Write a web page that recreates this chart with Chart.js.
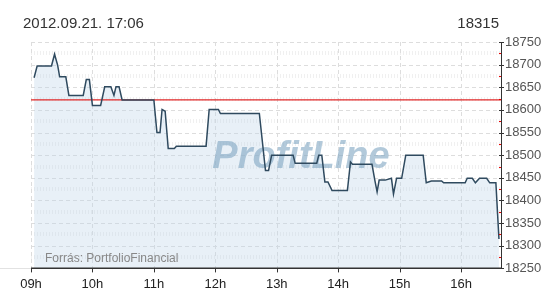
<!DOCTYPE html>
<html>
<head>
<meta charset="utf-8">
<script src="https://cdn.jsdelivr.net/npm/chart.js@4.4.0/dist/chart.umd.min.js"></script>
<style>
  html, body { margin: 0; padding: 0; background: #fff; }
  #wrap { width: 550px; height: 300px; }
</style>
</head>
<body>
<div id="wrap"><canvas id="chart" width="550" height="300"></canvas></div>
<script>
// header / labels
const title = '2012.09.21. 17:06';
const lastPrice = '18315';
const source = 'Forrás: PortfolioFinancial';
const watermark = 'ProfitLine';
const hourLabels = ['09h', '10h', '11h', '12h', '13h', '14h', '15h', '16h'];

// intraday index values
const times = [
  '09:03', '09:06', '09:20', '09:23', '09:26', '09:28', '09:34', '09:37', '09:51', '09:54',
  '09:57', '10:00', '10:08', '10:12', '10:18', '10:21', '10:23', '10:26', '10:29', '11:00',
  '11:03', '11:06', '11:08', '11:11', '11:14', '11:20', '11:22', '11:51', '11:54', '12:03',
  '12:05', '12:43', '12:49', '12:52', '12:55', '13:16', '13:18', '13:39', '13:41', '13:44',
  '13:47', '13:50', '13:54', '14:09', '14:12', '14:14', '14:33', '14:36', '14:38', '14:40',
  '14:46', '14:52', '14:54', '14:57', '15:02', '15:06', '15:23', '15:26', '15:31', '15:41',
  '15:43', '16:04', '16:06', '16:11', '16:14', '16:18', '16:25', '16:28', '16:34', '16:37'
];
const values = [
  18671, 18697, 18697, 18723, 18699, 18673, 18673, 18632, 18632, 18667,
  18667, 18610, 18610, 18651, 18651, 18632, 18651, 18651, 18622, 18622,
  18550, 18550, 18601, 18597, 18515, 18515, 18520, 18520, 18601, 18601,
  18592, 18592, 18466, 18466, 18500, 18500, 18482, 18482, 18500, 18500,
  18441, 18441, 18422, 18422, 18485, 18480, 18480, 18442, 18419, 18445,
  18445, 18449, 18414, 18449, 18449, 18500, 18500, 18439, 18443, 18443,
  18439, 18439, 18449, 18449, 18439, 18449, 18449, 18439, 18439, 18315
];
const prevClose = 18622;

const yMin = 18250, yMax = 18750, yStep = 50;
const dayStart = '09:00', dayEnd = '16:39';

const toMin = s => {
  const [h, m] = s.split(':').map(Number);
  return h * 60 + m;
};
const xMin = 0, xMax = toMin(dayEnd) - toMin(dayStart);
const series = times.map((t, i) => ({ x: toMin(t) - toMin(dayStart), y: values[i] }));

const FONT = '"Liberation Sans", Arial, sans-serif';

function hline(ctx, x1, x2, y) {
  ctx.beginPath(); ctx.moveTo(x1, y); ctx.lineTo(x2, y); ctx.stroke();
}
function vline(ctx, x, y1, y2) {
  ctx.beginPath(); ctx.moveTo(x, y1); ctx.lineTo(x, y2); ctx.stroke();
}

const decor = {
  id: 'decor',
  beforeDraw(chart) {
    const { ctx, chartArea: a, scales: { x, y } } = chart;
    ctx.save();
    // minor grid (hatched)
    ctx.strokeStyle = '#f0f0f0';
    ctx.lineWidth = 4;
    ctx.setLineDash([1, 2]);
    for (let v = yMin + yStep / 2; v < yMax; v += yStep) {
      hline(ctx, a.left, a.right, Math.round(y.getPixelForValue(v)));
    }
    // major grid (dashed)
    ctx.strokeStyle = '#dddddd';
    ctx.lineWidth = 1;
    ctx.setLineDash([4, 3]);
    for (let v = yMin + yStep; v <= yMax; v += yStep) {
      hline(ctx, a.left, a.right, Math.round(y.getPixelForValue(v)) + 0.5);
    }
    x.ticks.forEach(t => {
      vline(ctx, Math.round(x.getPixelForValue(t.value)) + 0.5, a.top, a.bottom);
    });
    ctx.setLineDash([]);
    // faint base line to the left of the plot
    ctx.strokeStyle = '#e2e2e2';
    hline(ctx, 0, a.left, Math.round(a.bottom) + 0.5);
    ctx.restore();
  },
  beforeDatasetsDraw(chart) {
    const { ctx } = chart;
    ctx.save();
    ctx.font = 'italic bold 38px ' + FONT;
    ctx.fillStyle = 'rgba(130,168,196,0.62)';
    ctx.textAlign = 'center';
    ctx.textBaseline = 'middle';
    ctx.fillText(watermark, 301, 158);

    ctx.font = '12px ' + FONT;
    ctx.fillStyle = '#888';
    ctx.textAlign = 'left';
    ctx.textBaseline = 'alphabetic';
    ctx.fillText(source, 45, 262);
    ctx.restore();
  },
  afterDatasetsDraw(chart) {
    const { ctx, chartArea: a, scales: { x, y } } = chart;
    ctx.save();
    // axes
    ctx.strokeStyle = '#333';
    ctx.lineWidth = 1;
    vline(ctx, Math.round(a.right) + 0.5, a.top, a.bottom);
    ctx.lineWidth = 1.5;
    hline(ctx, a.left, a.right + 1, Math.round(a.bottom) + 0.25);
    // y tick marks
    ctx.lineWidth = 1;
    for (let v = yMin; v <= yMax; v += yStep) {
      const py = Math.round(y.getPixelForValue(v)) + 0.5;
      hline(ctx, a.right - 2, a.right + 3, py);
    }
    ctx.strokeStyle = '#e00';
    for (let v = yMin + yStep / 2; v < yMax; v += yStep) {
      const py = Math.round(y.getPixelForValue(v)) + 0.5;
      hline(ctx, a.right - 2, a.right, py);
    }
    // x tick marks
    ctx.strokeStyle = '#333';
    x.ticks.forEach(t => {
      vline(ctx, Math.round(x.getPixelForValue(t.value)) + 0.5, a.bottom, a.bottom + 4);
    });
    // header
    ctx.font = '15px ' + FONT;
    ctx.fillStyle = '#333';
    ctx.textBaseline = 'alphabetic';
    ctx.textAlign = 'left';
    ctx.fillText(title, 23, 28);
    ctx.textAlign = 'right';
    ctx.fillText(lastPrice, 499, 28);
    ctx.restore();
  }
};

new Chart(document.getElementById('chart'), {
  type: 'line',
  data: {
    datasets: [
      {
        data: series,
        borderColor: '#2f4a5f',
        borderWidth: 1.5,
        backgroundColor: 'rgba(190,212,232,0.35)',
        fill: 'start',
        pointRadius: 0,
        tension: 0
      },
      {
        data: [{ x: xMin, y: prevClose }, { x: xMax, y: prevClose }],
        borderColor: 'rgb(225,40,40)',
        backgroundColor: 'rgb(225,40,40)',
        borderWidth: 1.2,
        pointRadius: 0,
        fill: false
      }
    ]
  },
  options: {
    responsive: false,
    animation: false,
    devicePixelRatio: 1,
    layout: { padding: { left: 31, top: 42, right: 0, bottom: 0 } },
    plugins: {
      legend: { display: false },
      tooltip: { enabled: false },
      filler: { drawTime: 'beforeDatasetsDraw' }
    },
    scales: {
      x: {
        type: 'linear',
        min: xMin,
        max: xMax,
        grid: { display: false, drawTicks: false },
        border: { display: false },
        afterBuildTicks: s => { s.ticks = hourLabels.map((_, i) => ({ value: i * 60 })); },
        afterFit: s => { s.height = 31.6; },
        ticks: {
          autoSkip: false,
          maxRotation: 0,
          padding: 8,
          color: '#222',
          font: { family: FONT, size: 13 },
          callback: (v, i) => hourLabels[i]
        }
      },
      y: {
        position: 'right',
        min: yMin,
        max: yMax,
        grid: { display: false, drawTicks: false },
        border: { display: false },
        afterFit: s => { s.width = 49; },
        ticks: {
          stepSize: yStep,
          padding: 4,
          color: '#555',
          font: { family: FONT, size: 13 },
          callback: v => String(v)
        }
      }
    }
  },
  plugins: [decor]
});
</script>
</body>
</html>
